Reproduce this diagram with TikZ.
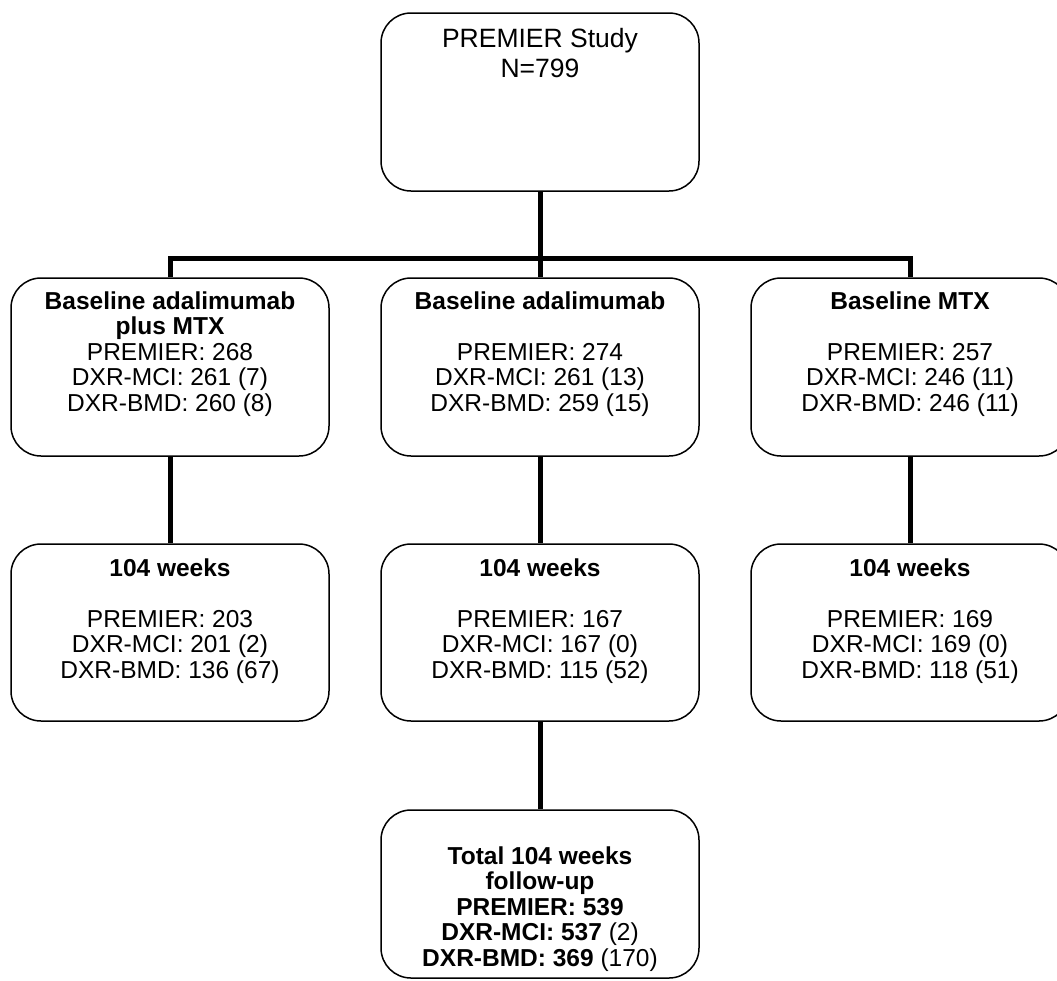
\documentclass[tikz,border=0pt]{standalone}
\usepackage{fontspec}
\setmainfont{Liberation Sans}
\begin{document}
\begin{tikzpicture}[x=1pt,y=-1pt,
  box/.style={draw, line width=1.5pt, rounded corners=30pt, minimum width=318pt, inner sep=0pt},
  txt/.style={anchor=north, align=center, inner sep=0pt, font=\fontsize{24.5pt}{25.5pt}\selectfont},
  conn/.style={line width=5pt, line join=miter}]
\useasboundingbox (0,0) rectangle (1057,980);
\clip (0,0) rectangle (1057,980);
% boxes
\node[box, minimum height=178pt] (top) at (540,102) {};
\node[box, minimum height=178pt] (b1) at (170,367) {};
\node[box, minimum height=178pt] (b2) at (540,367) {};
\node[box, minimum height=178pt] (b3) at (910,367) {};
\node[box, minimum height=177pt] (c1) at (170,632.5) {};
\node[box, minimum height=177pt] (c2) at (540,632.5) {};
\node[box, minimum height=177pt] (c3) at (910,632.5) {};
\node[box, minimum height=168pt] (tot) at (540,894) {};
% texts
\node[txt, font=\fontsize{26.5pt}{30pt}\selectfont] (ttop) at (540,28.5) {PREMIER Study\\N=799};
\node[txt] (tb1) at (170,291.2) {\textbf{Baseline adalimumab}\\\textbf{plus MTX}\\PREMIER: 268\\DXR-MCI: 261 (7)\\DXR-BMD: 260 (8)};
\node[txt] (tb2) at (540,291.2) {\textbf{Baseline adalimumab}\\\mbox{}\\PREMIER: 274\\DXR-MCI: 261 (13)\\DXR-BMD: 259 (15)};
\node[txt] (tb3) at (910,291.2) {\textbf{Baseline MTX}\\\mbox{}\\PREMIER: 257\\DXR-MCI: 246 (11)\\DXR-BMD: 246 (11)};
\node[txt] (tc1) at (170,558.2) {\textbf{104 weeks}\\\mbox{}\\PREMIER: 203\\DXR-MCI: 201 (2)\\DXR-BMD: 136 (67)};
\node[txt] (tc2) at (540,558.2) {\textbf{104 weeks}\\\mbox{}\\PREMIER: 167\\DXR-MCI: 167 (0)\\DXR-BMD: 115 (52)};
\node[txt] (tc3) at (910,558.2) {\textbf{104 weeks}\\\mbox{}\\PREMIER: 169\\DXR-MCI: 169 (0)\\DXR-BMD: 118 (51)};
\node[txt] (ttot) at (540,846.2) {\textbf{Total 104 weeks}\\\textbf{follow-up}\\\textbf{PREMIER: 539}\\\textbf{DXR-MCI: 537} (2)\\\textbf{DXR-BMD: 369} (170)};
% connectors
\coordinate (hub) at (540,258);
\coordinate (hl) at (170,258);
\coordinate (hr) at (910,258);
\draw[conn] (top.south) -- (hub) -- (b2.north);
\draw[conn] (b1.north) -- (hl) -- (hr) -- (b3.north);
\draw[conn] (b1.south) -- (c1.north);
\draw[conn] (b2.south) -- (c2.north);
\draw[conn] (b3.south) -- (c3.north);
\draw[conn] (c2.south) -- (tot.north);
\end{tikzpicture}
\end{document}
